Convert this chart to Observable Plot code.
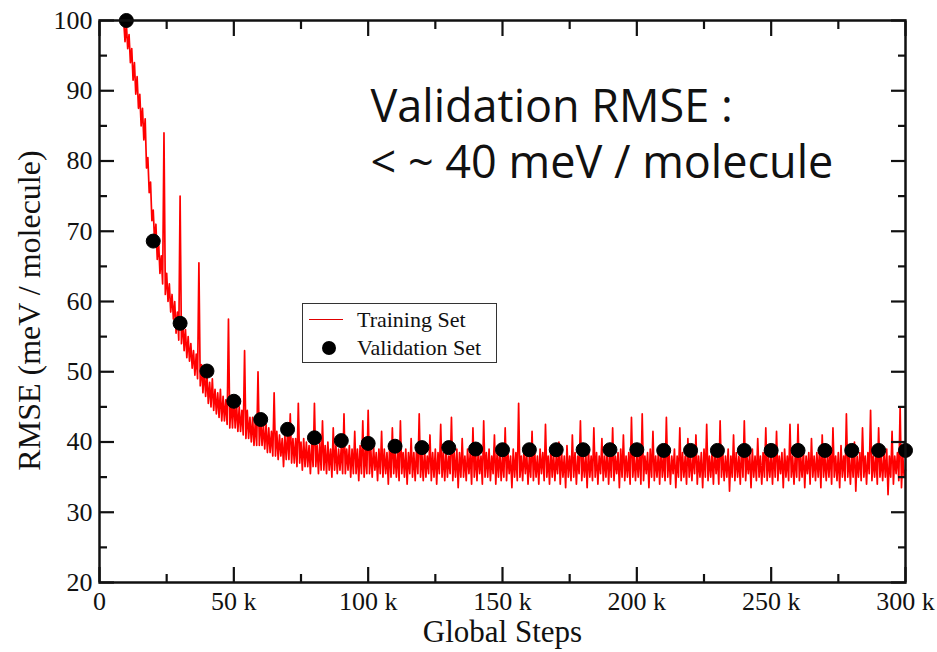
<!DOCTYPE html>
<html>
<head>
<meta charset="utf-8">
<script src="https://cdn.jsdelivr.net/npm/d3@7"></script>
<script src="https://cdn.jsdelivr.net/npm/@observablehq/plot@0.6"></script>
<style>
  body { margin: 0; background: #fff; }
  #wrap { position: relative; width: 937px; height: 652px; overflow: hidden; }
  #legend {
    position: absolute; left: 302px; top: 303px; width: 193px; height: 58px;
    border: 1.5px solid #333; background: #fff;
    font-family: "Liberation Serif", serif; font-size: 22px; color: #111;
  }
  .row { position: absolute; left: 0; height: 24px; display: flex; align-items: center; }
  .sw { width: 54px; position: relative; height: 24px; }
  .ln { position: absolute; left: 6px; width: 34px; top: 11px; border-top: 1.5px solid #e00000; }
  .dt { position: absolute; left: 19px; top: 5px; width: 14px; height: 14px; border-radius: 50%; background: #000; }
</style>
</head>
<body>
<div id="wrap"></div>
<script>
// Validation RMSE (meV / molecule) every 10k global steps
const validationSteps = [10,20,30,40,50,60,70,80,90,100,110,120,130,140,150,160,170,180,190,200,210,220,230,240,250,260,270,280,290,300].map(k => k * 1000);
const validationRMSE = [100,68.6,56.9,50.1,45.8,43.2,41.8,40.6,40.2,39.8,39.4,39.2,39.2,39.0,38.9,38.9,38.9,38.9,38.9,38.9,38.8,38.8,38.8,38.8,38.8,38.8,38.8,38.8,38.8,38.8];

// Training RMSE read every 0.5k steps; each block = [start step in k, values]
const trainEarly = [9, [100,97,99.5,96,98,94,96,91.5,94,89.5,92,87.5,89.5,85,87.5,83,86,79,80.5,75.5,77,71.5,
  73,68.5,71,66,68.5,64,66.5,62.5,84,61,64,60,62.5,58.5,61,57.5,60,55.5,58.5,54.5]];
const train30 = [30, [75,54,57.5,53,56,52,55,51.5,54,50.5,53,49.5,52.5,49,65.5,48,51,47,50.5,46.5]];
const train40 = [40, [49.5,45.5,48.5,45,49,44.5,47.5,44,47,43.5,47.5,43,46.5,43,46,42.5,57.5,42,46,42]];
const train50 = [50, [46.5,42,45.5,41.5,45,41.5,44.5,41,53,40.5,44.5,40.5,43.5,40,43.5,39.5,43,39.5,50,39.5]];
const train60 = [60, [43.5,39.5,42.5,39,42.5,38.5,42,38.5,41.5,38,47,38,41.5,37.5,41,38,40.5,36.5,41,37.5]];
const train70 = [70, [41.5,37.5,44,37,40.5,37,40.5,36.5,45.5,37,40,36,40.5,36.5,40,36.5,39.5,35.5,40,36.5]];
const train80 = [80, [45.5,36.5,39.5,35.5,40,36,43,36,39.5,35.5,40,36,39,35,42,36,39.5,35.5,39,36]];
const train90 = [90, [39.5,35.5,44,35.5,39,36,39.5,35,39,35.5,41.5,35.5,39,34.5,39.5,35.5,43,35,39,35.5]];
const train100 = [100, [44.5,35.5,39,35,39.5,36,38.5,34.5,39,35.5,41.5,35,39,35.5,38.5,34,39.5,35,42,35.5]];
const train110 = [110, [38.5,35,39,34.5,43,35.5,38.5,35,39,34,38.5,35.5,40.5,35,38.5,34.5,39,35.5,44,35]];
const train120 = [120, [38.5,34.5,39,35,38,35.5,41,34.5,38.5,35,39,34,38.5,35.5,42.5,35,38.5,34.5,39,35]];
const train130 = [130, [38,35.5,43.5,34.5,38.5,35,39,33.5,38.5,35,40.5,35,38,34.5,39,35.5,38.5,34,42,35]];
const train140 = [140, [38.5,34.5,39,35.5,38,34,43,35,38.5,35,39,34.5,38,35.5,41,34,38.5,35,39,34.5]];
const train150 = [150, [38,35,42,34.5,38.5,35.5,38,33.5,39,35,38.5,34.5,45.5,35,38,34.5,39,35.5,38.5,34]];
const train160 = [160, [38,35,41.5,34.5,38.5,35,38,34,39,35.5,38.5,34.5,42.5,35,38,34,39,35,38.5,34.5]];
const train170 = [170, [38,35.5,40,34,38.5,35,38,33.5,39.5,35,38,34.5,41,35,38.5,34,38,35.5,43,34.5]];
const train180 = [180, [38,35,38.5,33.5,39,35,38,34.5,42,35,38.5,34,38,35.5,40.5,34.5,38,35,39,34]];
const train190 = [190, [38.5,35,42,34.5,38,35.5,38.5,33.5,39,35,41,34.5,38,35,38.5,34,43.5,35,38,34.5]];
const train200 = [200, [38.5,35,39,34,44,34.5,38,35.5,38.5,33.5,39,35,41.5,34.5,38,35,38.5,34,39.5,35]];
const train210 = [210, [38,34.5,43.5,35,38.5,34,38,35.5,39,33.5,38,35,42,34.5,38.5,35,38,34,40.5,35]];
const train220 = [220, [38,34.5,38.5,35.5,41,34,38,35,38.5,33.5,39,35,42.5,34.5,38,35,38.5,34,39,35.5]];
const train230 = [230, [38,34,43,35,38.5,34.5,38,35,39,33,38,35,41,34.5,38.5,35,38,34,39.5,35]];
const train240 = [240, [43,34.5,38,35.5,38.5,33.5,39,35,38,34.5,40.5,35,38,34,38.5,35,42,34.5,38,35]];
const train250 = [250, [38.5,34,39,35,41.5,34.5,38,35.5,38.5,33.5,39,35,38,34.5,42.5,35,38,34,38.5,35]];
const train260 = [260, [42.5,34.5,38,35,39,33.5,38,35.5,38.5,34,40.5,35,38,34.5,38.5,35,39,33.5,41,35]];
const train270 = [270, [38,34.5,38.5,35,39,34,42,35,38,34.5,38.5,33.5,39.5,35,38,34.5,44,35,38,34]];
const train280 = [280, [38.5,35,40,33,38,35,38.5,34.5,42,35,38,34,38.5,35.5,44.5,34.5,38,35,38.5,34]];
const train290 = [290, [42,35,38,34.5,38.5,35,39,32.5,38,35,41.5,34,38,35.5,38.5,34.5,45,33.5,38,35,36]];
const trainingBlocks = [trainEarly, train30, train40, train50, train60, train70, train80, train90, train100, train110,
  train120, train130, train140, train150, train160, train170, train180, train190, train200, train210, train220,
  train230, train240, train250, train260, train270, train280, train290];
const trainingStepK = 0.5;

const xMajor = [0, 50000, 100000, 150000, 200000, 250000, 300000];
const xMinor = [25000, 75000, 125000, 175000, 225000, 275000];
const yMajor = [20, 30, 40, 50, 60, 70, 80, 90, 100];
const yMinor = [25, 35, 45, 55, 65, 75, 85, 95];
const xTitle = "Global Steps";
const yTitle = "RMSE (meV / molecule)";
const annotation = "Validation RMSE :\n< ~ 40 meV / molecule";
const legendLabels = ["Training Set", "Validation Set"];

const training = trainingBlocks.flatMap(([k0, vals]) =>
  vals.map((v, i) => ({step: (k0 + i * trainingStepK) * 1000, rmse: v})));
const validation = validationSteps.map((s, i) => ({step: s, rmse: validationRMSE[i]}));

const fmtX = d => d === 0 ? "0" : (d / 1000) + " k";
const blank = () => "";
const tk = {strokeWidth: 2.2, stroke: "#111", label: null, tickFormat: blank};

const chart = Plot.plot({
  width: 937,
  height: 652,
  marginLeft: 99,
  marginRight: 32,
  marginTop: 20,
  marginBottom: 70,
  style: {fontFamily: "'Liberation Serif', serif", background: "#fff", color: "#111", overflow: "visible"},
  x: {domain: [0, 300000]},
  y: {domain: [20, 100]},
  marks: [
    Plot.line(training, {x: "step", y: "rmse", stroke: "#ff0000", strokeWidth: 1.7}),
    Plot.dot(validation, {x: "step", y: "rmse", r: 7, fill: "#000", stroke: "#000", strokeWidth: 1}),
    // inward ticks on all four sides
    Plot.axisY({anchor: "left", ticks: yMajor, tickSize: 15, dx: 15, ...tk}),
    Plot.axisY({anchor: "left", ticks: yMinor, tickSize: 8, dx: 8, ...tk}),
    Plot.axisY({anchor: "right", ticks: yMajor, tickSize: 15, dx: -15, ...tk}),
    Plot.axisY({anchor: "right", ticks: yMinor, tickSize: 8, dx: -8, ...tk}),
    Plot.axisX({anchor: "bottom", ticks: xMajor, tickSize: 15, dy: -15, ...tk}),
    Plot.axisX({anchor: "bottom", ticks: xMinor, tickSize: 8, dy: -8, ...tk}),
    Plot.axisX({anchor: "top", ticks: xMajor, tickSize: 15, dy: 15, ...tk}),
    Plot.axisX({anchor: "top", ticks: xMinor, tickSize: 8, dy: 8, ...tk}),
    // tick labels
    Plot.axisY({anchor: "left", ticks: yMajor, tickSize: 0, tickPadding: 7, fontSize: 26, label: null}),
    Plot.axisX({anchor: "bottom", ticks: xMajor, tickSize: 0, tickPadding: 9, fontSize: 26, tickFormat: fmtX, label: null}),
    Plot.frame({stroke: "#111", strokeWidth: 2.5}),
    // axis titles
    Plot.text([xTitle], {text: d => d, frameAnchor: "bottom", dy: 50, fontSize: 31, lineAnchor: "middle"}),
    Plot.text([yTitle], {text: d => d, frameAnchor: "left", dx: -70, dy: 9, rotate: -90, textAnchor: "middle", fontSize: 32, lineAnchor: "middle"}),
    // annotation
    Plot.text([annotation], {text: d => d, frameAnchor: "top-left", dx: 271, dy: 61, textAnchor: "start", lineAnchor: "top",
      fontSize: 45, lineHeight: 1.26, fontFamily: "'Open Sans', Lato, sans-serif", fill: "#111"})
  ]
});

const wrap = document.getElementById("wrap");
wrap.appendChild(chart);

// legend
const legend = document.createElement("div");
legend.id = "legend";
legendLabels.forEach((lab, i) => {
  const row = document.createElement("div");
  row.className = "row";
  row.style.top = (4 + i * 28) + "px";
  const sw = document.createElement("div");
  sw.className = "sw";
  const mk = document.createElement("div");
  mk.className = i === 0 ? "ln" : "dt";
  sw.appendChild(mk);
  const t = document.createElement("span");
  t.textContent = lab;
  row.appendChild(sw);
  row.appendChild(t);
  legend.appendChild(row);
});
wrap.appendChild(legend);
</script>
</body>
</html>
